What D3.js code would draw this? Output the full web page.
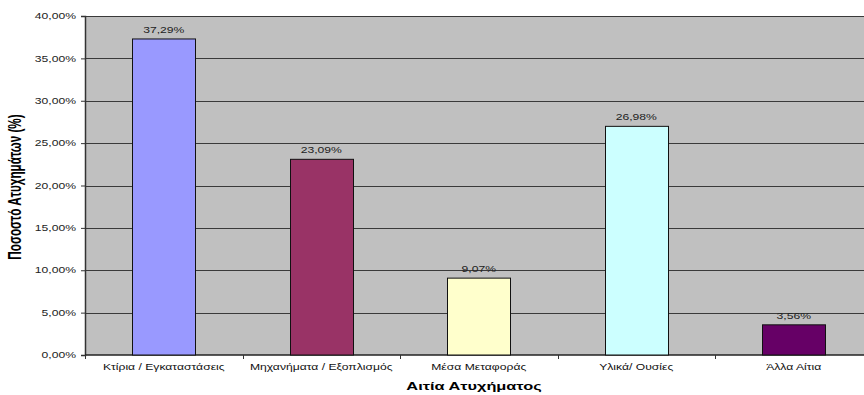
<!DOCTYPE html>
<html>
<head>
<meta charset="utf-8">
<script src="https://cdn.jsdelivr.net/npm/d3@7"></script>
<style>
  html, body { margin: 0; padding: 0; background: #fff; }
  svg { display: block; font-family: "Liberation Sans", Arial, sans-serif; }
</style>
</head>
<body>
<svg id="chart" width="864" height="395"></svg>
<script>
// Accident causes and their share of all accidents
const categories = ["Κτίρια / Εγκαταστάσεις", "Μηχανήματα / Εξοπλισμός", "Μέσα Μεταφοράς", "Υλικά/ Ουσίες", "Άλλα Αίτια"];
const shares = [0.3729, 0.2309, 0.0907, 0.2698, 0.0356];
const barColors = ["#9999FF", "#993366", "#FFFFCC", "#CCFFFF", "#660066"];
const yTicks = [0, 0.05, 0.10, 0.15, 0.20, 0.25, 0.30, 0.35, 0.40];
const xTitle = "Αιτία Ατυχήματος";
const yTitle = "Ποσοστό Ατυχημάτων (%)";

const locale = d3.formatLocale({ decimal: ",", thousands: ".", grouping: [3], currency: ["", "€"] });
const pct = locale.format(".2%");

// text is drawn horizontally widened, as in the exported workbook chart
const stretch = 1.35;

const svg = d3.select("#chart");
const plot = { left: 85, right: 872.5, top: 16, bottom: 355 };

const x = d3.scaleBand().domain(categories).range([plot.left, plot.right])
  .paddingInner(0.6).paddingOuter(0.3);
const y = d3.scaleLinear().domain([0, 0.4]).range([plot.bottom, plot.top]);

// plot background
svg.append("rect")
  .attr("x", plot.left).attr("y", plot.top)
  .attr("width", plot.right - plot.left).attr("height", plot.bottom - plot.top)
  .attr("fill", "#C0C0C0");

// horizontal gridlines
svg.append("g").selectAll("line").data(yTicks.filter(d => d > 0)).join("line")
  .attr("x1", plot.left).attr("x2", plot.right)
  .attr("y1", d => Math.round(y(d)) + 0.5).attr("y2", d => Math.round(y(d)) + 0.5)
  .attr("stroke", "#3a3a3a").attr("stroke-width", 1);

// y axis (line and tick marks)
const yAxis = d3.axisLeft(y).tickValues(yTicks).tickFormat("").tickSize(4);
const gy = svg.append("g").attr("transform", `translate(${plot.left},0)`).call(yAxis);
gy.select(".domain").attr("stroke", "#333").attr("stroke-width", 1.5);
gy.selectAll(".tick line").attr("stroke", "#333");

// y tick labels
svg.append("g").selectAll("text").data(yTicks).join("text")
  .attr("transform", d => `translate(76,${y(d) + 3.2}) scale(${stretch},1)`)
  .attr("text-anchor", "end")
  .attr("font-size", 9).attr("fill", "#222")
  .text(d => pct(d));

// x axis baseline and ticks at band boundaries
const step = x.step();
const boundaries = categories.map(c => x(c) - step * x.paddingOuter()).concat([plot.right]);
svg.append("line")
  .attr("x1", plot.left).attr("x2", plot.right)
  .attr("y1", plot.bottom).attr("y2", plot.bottom)
  .attr("stroke", "#222").attr("stroke-width", 1.5);
svg.append("g").selectAll("line").data(boundaries).join("line")
  .attr("x1", d => Math.round(d) + 0.5).attr("x2", d => Math.round(d) + 0.5)
  .attr("y1", plot.bottom).attr("y2", plot.bottom + 4)
  .attr("stroke", "#333");

// bars
svg.append("g").selectAll("rect").data(categories).join("rect")
  .attr("x", d => Math.round(x(d)) + 0.5)
  .attr("y", (d, i) => y(shares[i]))
  .attr("width", Math.round(x.bandwidth()))
  .attr("height", (d, i) => plot.bottom - y(shares[i]))
  .attr("fill", (d, i) => barColors[i])
  .attr("stroke", "#111").attr("stroke-width", 1);

// value labels
svg.append("g").selectAll("text").data(categories).join("text")
  .attr("transform", (d, i) => `translate(${x(d) + x.bandwidth() / 2},${y(shares[i]) - 6}) scale(${stretch},1)`)
  .attr("text-anchor", "middle")
  .attr("font-size", 9).attr("fill", "#222")
  .text((d, i) => pct(shares[i]));

// category labels
svg.append("g").selectAll("text").data(categories).join("text")
  .attr("transform", d => `translate(${x(d) + x.bandwidth() / 2},370) scale(${stretch},1)`)
  .attr("text-anchor", "middle")
  .attr("font-size", 9).attr("fill", "#111")
  .text(d => d);

// axis titles
svg.append("text")
  .attr("transform", `translate(474,390) scale(1.42,1)`)
  .attr("text-anchor", "middle")
  .attr("font-size", 11.5).attr("font-weight", "bold").attr("fill", "#000")
  .text(xTitle);

svg.append("text")
  .attr("transform", `translate(21,187) scale(1.5,1) rotate(-90)`)
  .attr("text-anchor", "middle")
  .attr("font-size", 11.7).attr("font-weight", "bold").attr("fill", "#000")
  .text(yTitle);
</script>
</body>
</html>
